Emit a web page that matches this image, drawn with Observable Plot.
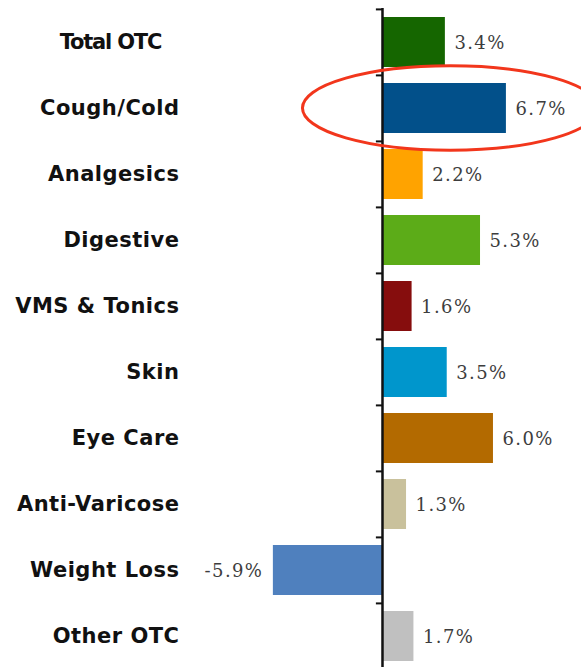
<!DOCTYPE html>
<html>
<head>
<meta charset="utf-8">
<script src="https://cdn.jsdelivr.net/npm/d3@7"></script>
<script src="https://cdn.jsdelivr.net/npm/@observablehq/plot@0.6"></script>
<style>
  html, body { margin: 0; padding: 0; background: #fff; }
</style>
</head>
<body>
<div id="chart"></div>
<script>
const categories = ["Total OTC", "Cough/Cold", "Analgesics", "Digestive", "VMS & Tonics", "Skin", "Eye Care", "Anti-Varicose", "Weight Loss", "Other OTC"];
const growth = [3.4, 6.7, 2.2, 5.3, 1.6, 3.5, 6.0, 1.3, -5.9, 1.7];
const colors = ["#156600", "#02508a", "#ffa300", "#5cac18", "#860d0d", "#0096cc", "#b36a00", "#c9c19c", "#4f80be", "#c0c0c0"];
const highlighted = "Cough/Cold";
const highlightCenter = 3.7;   // % units
const highlightHalfWidth = 8.0; // % units

const data = categories.map((c, i) => ({category: c, value: growth[i], color: colors[i]}));

const ellipseMark = (index, scales, values, dimensions) => {
  const x = scales.x, y = scales.y;
  const bw = y.bandwidth ? y.bandwidth() : 0;
  const step = y.step ? y.step() : bw / 0.76;
  const cx = x(highlightCenter);
  const rx = x(highlightHalfWidth) - x(0);
  const cy = y(highlighted) + bw / 2;
  const ry = step * 0.64;
  const e = document.createElementNS("http://www.w3.org/2000/svg", "ellipse");
  e.setAttribute("cx", cx); e.setAttribute("cy", cy);
  e.setAttribute("rx", rx); e.setAttribute("ry", ry);
  e.setAttribute("fill", "none");
  e.setAttribute("stroke", "#f2361c");
  e.setAttribute("stroke-width", 3);
  return e;
};

const chart = Plot.plot({
  width: 581,
  height: 667,
  marginLeft: 200,
  marginRight: 0,
  marginTop: 8,
  marginBottom: 0,
  style: {background: "#fff"},
  x: {domain: [-9.84, 10.76], axis: null},
  y: {domain: categories, range: [8, 670], paddingInner: 0.24, paddingOuter: 0.12, axis: null},
  marks: [
    Plot.barX(data, {x: "value", y: "category", fill: "color"}),
    Plot.ruleX([0], {stroke: "#111", strokeWidth: 2.5}),
    Plot.ruleY(categories, {y: d => d, x1: -0.33, x2: 0, dy: -33.1, stroke: "#111", strokeWidth: 2}),
    Plot.axisY({
      tickSize: 0,
      tickPadding: 21,
      tickFormat: d => d === "Total OTC" ? d + "\u00a0\u00a0\u00a0" : d,
      fontSize: 21,
      fontWeight: "bold",
      fontFamily: "DejaVu Sans",
      fill: "#111",
      label: null
    }),
    Plot.text(data.filter(d => d.value >= 0), {
      x: "value", y: "category", text: d => d.value.toFixed(1) + "%",
      dx: 9, dy: 1, textAnchor: "start", fontSize: 18, fontFamily: "DejaVu Serif",
      fill: "#3d3d3d"
    }),
    Plot.text(data.filter(d => d.value < 0), {
      x: "value", y: "category", text: d => d.value.toFixed(1) + "%",
      dx: -10, dy: 1, textAnchor: "end", fontSize: 18, fontFamily: "DejaVu Serif",
      fill: "#3d3d3d"
    }),
    ellipseMark
  ]
});
chart.querySelectorAll("text").forEach(t => {
  const s = t.textContent || "";
  if (s.includes("%")) t.style.letterSpacing = "1.4px";
  else if (s.startsWith("Total OTC")) t.style.letterSpacing = "-1.2px";
  else t.style.letterSpacing = "0.5px";
});
document.getElementById("chart").appendChild(chart);
</script>
</body>
</html>
